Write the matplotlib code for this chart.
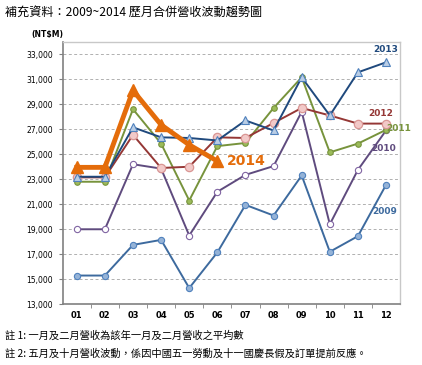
import numpy as np
import matplotlib
matplotlib.use("Agg")
import matplotlib.pyplot as plt

plt.rcParams['font.family'] = ['Noto Sans CJK TC', 'DejaVu Sans']

months = ["01", "02", "03", "04", "05", "06", "07", "08", "09", "10", "11", "12"]
rev_2009 = [15300, 15300, 17750, 18150, 14300, 17150, 20950, 20100, 23300, 17200, 18450, 22550]
rev_2010 = [19000, 19000, 24200, 23850, 18500, 22000, 23350, 24050, 28400, 19400, 23750, 26900]
rev_2011 = [22800, 22800, 28600, 25850, 21300, 25650, 25900, 28700, 31150, 25150, 25850, 26950]
rev_2012 = [23150, 23150, 26550, 23900, 24000, 26350, 26300, 27500, 28700, 28100, 27450, 27450]
rev_2013 = [23200, 23200, 27150, 26350, 26300, 26100, 27700, 26900, 31150, 28100, 31550, 32350]
rev_2014 = [23950, 23950, 30100, 27350, 25750, 24450]
yticks = np.arange(13000, 33001, 2000)

x = np.arange(1, 13)

fig = plt.figure(figsize=(4.22, 3.65), dpi=100)
ax = fig.add_axes([0.1486, 0.1663, 0.7995, 0.7195])

ax.plot(x, rev_2009, "-o", color="#3d6a9e", lw=1.4, ms=4.5, mfc="#95b3d7", mec="#4f81bd", mew=0.8, zorder=3)
ax.plot(x, rev_2010, "-o", color="#5f4b7e", lw=1.4, ms=4.5, mfc="white", mec="#8064a2", mew=0.8, zorder=3)
ax.plot(x, rev_2011, "-o", color="#77933c", lw=1.4, ms=4, mfc="#9bbb59", mec="#77933c", mew=0.8, zorder=3)
ax.plot(x, rev_2012, "-o", color="#953735", lw=1.4, ms=6, mfc="#f2c9c8", mec="#d99694", mew=0.9, zorder=3)
ax.plot(x, rev_2013, "-^", color="#1f497d", lw=1.4, ms=5.5, mfc="#b9cde5", mec="#4f81bd", mew=0.8, zorder=4)
ax.plot(x[:len(rev_2014)], rev_2014, "-^", color="#e46c0a", lw=3.5, ms=9, mfc="#e46c0a",
        mec="#e46c0a", zorder=5)

ax.text(12.0, 33150, "2013", color="#1f497d", fontsize=6.5, fontweight="bold", ha="center", family="DejaVu Sans")
ax.text(11.8, 28050, "2012", color="#953735", fontsize=6.5, fontweight="bold", ha="center", family="DejaVu Sans")
ax.text(12.45, 26850, "2011", color="#77933c", fontsize=6.5, fontweight="bold", ha="center", family="DejaVu Sans")
ax.text(11.9, 25250, "2010", color="#5f4b7e", fontsize=6.5, fontweight="bold", ha="center", family="DejaVu Sans")
ax.text(11.95, 20200, "2009", color="#3d6a9e", fontsize=6.5, fontweight="bold", ha="center", family="DejaVu Sans")
ax.text(6.35, 24450, "2014", color="#e46c0a", fontsize=10, fontweight="bold", ha="left", va="center",
        family="DejaVu Sans")

ax.set_xlim(0.5, 12.5)
ax.set_ylim(13000, 34000)
ax.set_xticks(x)
ax.set_xticklabels(months, fontsize=6, fontweight="bold", family="DejaVu Sans")
ax.set_xticks(np.arange(1.5, 12, 1), minor=True)
ax.tick_params(axis="x", which="major", length=0, pad=5)
ax.tick_params(axis="x", which="minor", length=3, direction="out", color="#808080")
ax.set_yticks(yticks)
ax.set_yticklabels([f"{v:,}" for v in yticks], fontsize=5.5, family="DejaVu Sans")
ax.tick_params(axis="y", length=3, color="#808080", pad=4)
ax.grid(axis="y", ls=(0, (3, 2.5)), color="#b0b0b0", lw=0.7)
ax.set_axisbelow(True)
for s in ["left", "bottom"]:
    ax.spines[s].set_color("#808080")
    ax.spines[s].set_linewidth(1.2)
for s in ["top", "right"]:
    ax.spines[s].set_color("#c8c8c8")
    ax.spines[s].set_linewidth(1.0)

fig.text(0.112, 0.905, "(NT$M)", fontsize=5.5, fontweight="bold", ha="center", va="center", family="DejaVu Sans")
fig.text(0.012, 0.965, "補充資料：2009~2014 歷月合併營收波動趨勢圖", fontsize=8.7, ha="left", va="center")
fig.text(0.012, 0.08, "註 1: 一月及二月營收為該年一月及二月營收之平均數", fontsize=7.4, ha="left", va="center")
fig.text(0.012, 0.03, "註 2: 五月及十月營收波動，係因中國五一勞動及十一國慶長假及訂單提前反應。", fontsize=7.4, ha="left", va="center")

fig.savefig("out.png", dpi=100)
